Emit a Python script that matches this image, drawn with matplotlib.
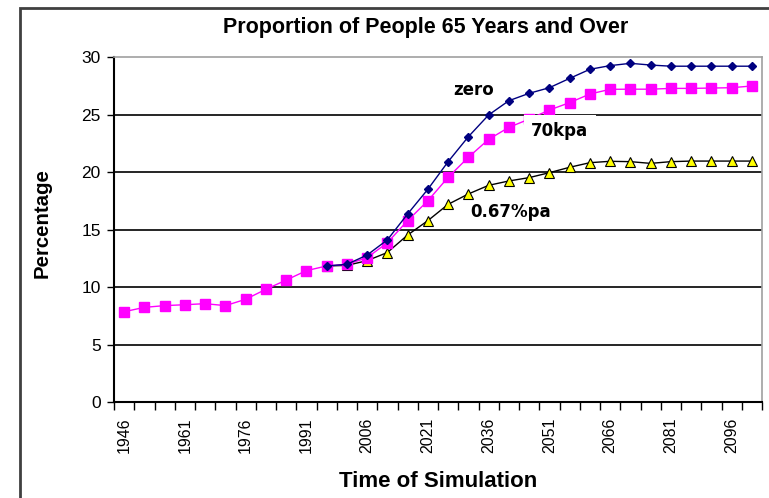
import matplotlib
matplotlib.use("Agg")
import matplotlib.pyplot as plt
from matplotlib.patches import Rectangle
import numpy as np

years = list(range(1946, 2102, 5))
tick_labels = [str(y) for y in years[::3]]

zero = [None]*10 + [11.83, 11.97, 12.78, 14.1, 16.35, 18.5, 20.9, 23.07, 24.96, 26.2,
                    26.84, 27.33, 28.14, 28.93, 29.25, 29.45, 29.3, 29.2, 29.2, 29.2, 29.2, 29.2]
kpa70 = [7.85, 8.23, 8.38, 8.46, 8.55, 8.38, 8.93, 9.8, 10.6, 11.42,
         11.83, 11.97, 12.55, 13.85, 15.77, 17.5, 19.54, 21.28, 22.84, 23.88,
         24.6, 25.39, 26.03, 26.78, 27.19, 27.2, 27.2, 27.27, 27.27, 27.3, 27.33, 27.48]
pa067 = [None]*10 + [11.83, 11.88, 12.29, 13.0, 14.52, 15.77, 17.19, 18.09, 18.84, 19.22,
                     19.51, 19.94, 20.41, 20.81, 20.93, 20.9, 20.75, 20.9, 20.95, 20.95, 20.95, 20.95]

plt.rcParams['font.family'] = ['Liberation Sans', 'DejaVu Sans']

W, H = 769, 498
fig = plt.figure(figsize=(W/100, H/100), dpi=100)
ax = fig.add_axes([114/W, (H-402)/H, 648/W, 345/H])

x = np.arange(len(years))

def arr(v):
    return np.array([np.nan if a is None else a for a in v], dtype=float)

ax.plot(x, arr(pa067), color='black', lw=1, marker='^', ms=6.5,
        mfc='#FFFF00', mec='black', mew=0.8, zorder=3)
ax.plot(x, arr(kpa70), color='#FF00FF', lw=1, marker='s', ms=6.5,
        mfc='#FF00FF', mec='#FF00FF', zorder=4)
ax.plot(x, arr(zero), color='#000080', lw=1, marker='D', ms=4.5,
        mfc='#000080', mec='#000080', zorder=5)

ax.set_xlim(-0.5, len(years)-0.5)
ax.set_ylim(0, 30)
ax.set_yticks(range(0, 31, 5))
for yv in range(5, 30, 5):
    ax.axhline(yv, color='black', lw=1.2, zorder=1)

ax.set_xticks(x[::3])
ax.set_xticklabels(tick_labels, rotation=90, fontsize=11.5)
ax.set_xticks(np.arange(-0.5, len(years), 1), minor=True)
ax.tick_params(axis='x', which='major', length=0, pad=11)
ax.tick_params(axis='x', which='minor', length=6, width=1, direction='out', color='black')
ax.tick_params(axis='y', length=5, width=1, direction='out', labelsize=12.5, pad=4.5)

for s in ['left', 'bottom']:
    ax.spines[s].set_color('black')
    ax.spines[s].set_linewidth(1.5)
for s in ['top', 'right']:
    ax.spines[s].set_color('#a0a0a0')
    ax.spines[s].set_linewidth(1.2)

lab = dict(fontsize=12, fontweight='bold', ha='center', va='center', zorder=6,
           family=['DejaVu Sans'])
ax.text(17.25, 27.13, 'zero', **lab)
ax.text(21.52, 23.55, '70kpa', bbox=dict(facecolor='white', edgecolor='none', pad=5.5), **lab)
ax.text(19.06, 16.52, '0.67%pa', **lab)

fig.text(426/W, 1-33/H, 'Proportion of People 65 Years and Over', fontsize=15.5,
         fontweight='bold', ha='center', va='baseline')
fig.text(42/W, 1-223/H, 'Percentage', fontsize=14.7, fontweight='bold',
         rotation=90, ha='center', va='center')
fig.text(438/W, 1-487/H, 'Time of Simulation', fontsize=16, fontweight='bold',
         ha='center', va='baseline')

fig.patches.append(Rectangle((20/W, -0.05), 1.2, 1 - 8/H + 0.05, transform=fig.transFigure,
                             fill=False, edgecolor='#404040', lw=2))

fig.savefig('out.png', dpi=100)
